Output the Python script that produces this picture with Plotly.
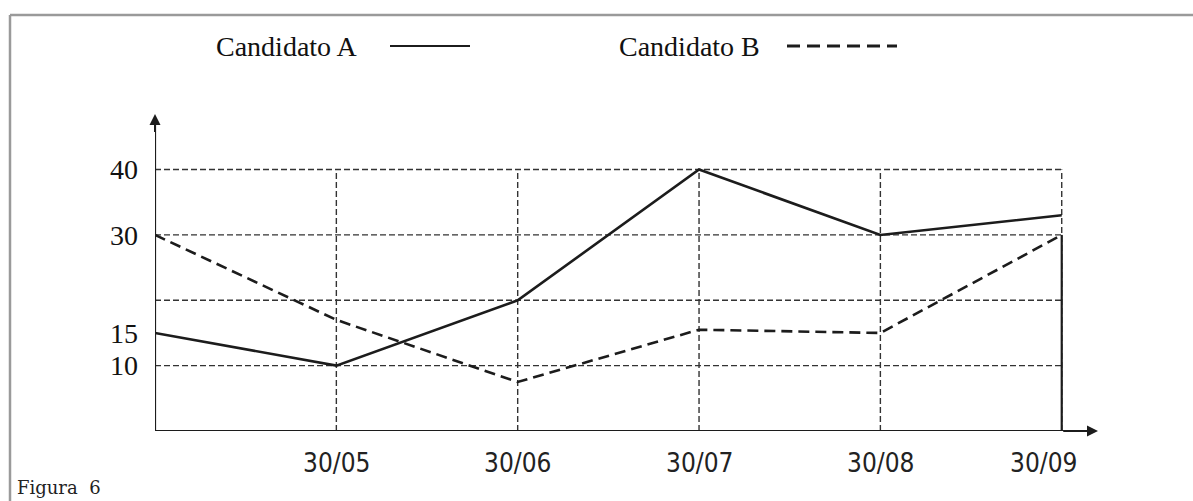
import plotly.graph_objects as go

# ---- data ----
x_pos = [0, 1, 2, 3, 4, 5]
x_labels = ["", "30/05", "30/06", "30/07", "30/08", "30/09"]
cand_a = [15, 10, 20, 40, 30, 33]
cand_b = [30, 17, 7.5, 15.5, 15, 30]
y_ticks = [10, 15, 30, 40]
grid_y = [10, 20, 30, 40]
series_names = ["Candidato A", "Candidato B"]

W, H = 1193, 501
L, R, T, B = 155, 95, 114, 70
pw, ph = W - L - R, H - T - B
XMAX = 5.2
YMAX = 48.5


def px(xp):
    return (xp - L) / pw


def py(yp):
    return (H - B - yp) / ph


INK = "#1c1c1c"
GRID = "#333333"

fig = go.Figure()
fig.add_trace(go.Scatter(x=x_pos, y=cand_a, mode="lines", name=series_names[0],
                         line=dict(color=INK, width=2.6), showlegend=False))
fig.add_trace(go.Scatter(x=x_pos, y=cand_b, mode="lines", name=series_names[1],
                         line=dict(color=INK, width=2.6, dash="11px,6px"), showlegend=False))

shapes = []
# dashed grid
for gy in grid_y:
    shapes.append(dict(type="line", xref="x", yref="y", x0=0, x1=x_pos[-1], y0=gy, y1=gy,
                       line=dict(color=GRID, width=1.4, dash="6px,3px"), layer="below"))
for gx in x_pos[1:]:
    shapes.append(dict(type="line", xref="x", yref="y", x0=gx, x1=gx, y0=0, y1=max(grid_y),
                       line=dict(color=GRID, width=1.4, dash="6px,3px"), layer="below"))
# solid drop at last date
shapes.append(dict(type="line", xref="x", yref="y", x0=x_pos[-1], x1=x_pos[-1], y0=0, y1=30,
                   line=dict(color=INK, width=2.2)))
# axes
shapes.append(dict(type="line", xref="x", yref="y", x0=0, x1=XMAX - 0.05, y0=0, y1=0,
                   line=dict(color=INK, width=2.2)))
shapes.append(dict(type="line", xref="x", yref="y", x0=0, x1=0, y0=0, y1=YMAX - 0.6,
                   line=dict(color=INK, width=2.2)))
# outer frame
shapes.append(dict(type="line", xref="paper", yref="paper", x0=px(10), x1=px(W + 5), y0=py(15), y1=py(15),
                   line=dict(color="#9a9a9a", width=2.5)))
shapes.append(dict(type="line", xref="paper", yref="paper", x0=px(10), x1=px(10), y0=py(15), y1=py(H + 5),
                   line=dict(color="#9a9a9a", width=2.5)))
# legend samples
LEG_Y = 46
shapes.append(dict(type="line", xref="paper", yref="paper", x0=px(390), x1=px(470), y0=py(LEG_Y), y1=py(LEG_Y),
                   line=dict(color=INK, width=2)))
shapes.append(dict(type="line", xref="paper", yref="paper", x0=px(787), x1=px(897), y0=py(LEG_Y), y1=py(LEG_Y),
                   line=dict(color=INK, width=3, dash="13px,7px")))

annotations = [
    dict(x=XMAX, y=0, ax=XMAX - 0.2, ay=0, xref="x", yref="y", axref="x", ayref="y",
         text="", showarrow=True, arrowhead=2, arrowsize=1.1, arrowwidth=2, arrowcolor=INK),
    dict(x=0, y=YMAX, ax=0, ay=YMAX - 3, xref="x", yref="y", axref="x", ayref="y",
         text="", showarrow=True, arrowhead=2, arrowsize=1.1, arrowwidth=2, arrowcolor=INK),
    dict(x=px(214), y=py(LEG_Y), xref="paper", yref="paper", xanchor="left", yanchor="middle",
         text=series_names[0], showarrow=False,
         font=dict(family="Liberation Serif", size=28, color="#111")),
    dict(x=px(617), y=py(LEG_Y), xref="paper", yref="paper", xanchor="left", yanchor="middle",
         text=series_names[1], showarrow=False,
         font=dict(family="Liberation Serif", size=28, color="#111")),
    dict(x=px(15), y=py(487), xref="paper", yref="paper", xanchor="left", yanchor="middle",
         text="Figura  6", showarrow=False,
         font=dict(family="DejaVu Serif", size=18, color="#222")),
]
# x labels (last one nudged left as in the original)
for i in range(1, len(x_pos)):
    annotations.append(dict(x=x_pos[i], y=0, xref="x", yref="y", xanchor="center", yanchor="top",
                            yshift=-15, xshift=(-18 if i == len(x_pos) - 1 else 0),
                            text=x_labels[i], showarrow=False,
                            font=dict(family="DejaVu Sans Condensed, DejaVu Sans", size=26, color="#222")))

fig.update_layout(
    width=W, height=H,
    margin=dict(l=L, r=R, t=T, b=B, pad=0),
    paper_bgcolor="white", plot_bgcolor="white",
    shapes=shapes, annotations=annotations,
    showlegend=False,
    xaxis=dict(range=[0, XMAX], showticklabels=False,
               showgrid=False, zeroline=False, showline=False, ticks=""),
    yaxis=dict(range=[0, YMAX], tickmode="array", tickvals=y_ticks, ticktext=[str(v) for v in y_ticks],
               showgrid=False, zeroline=False, showline=False, ticks="",
               ticklabelstandoff=16,
               tickfont=dict(family="Liberation Serif", size=28, color="#111")),
)

fig.write_html("out.html", config={"displayModeBar": False},
               post_script="document.body.style.margin='0';document.body.style.overflow='hidden';")
